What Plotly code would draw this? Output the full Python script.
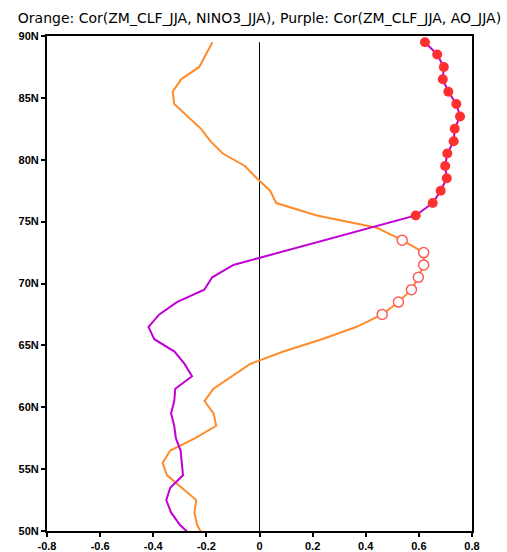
import plotly.graph_objects as go

lats = [89.5, 88.5, 87.5, 86.5, 85.5, 84.5, 83.5, 82.5, 81.5, 80.5,
        79.5, 78.5, 77.5, 76.5, 75.5, 74.5, 73.5, 72.5, 71.5, 70.5,
        69.5, 68.5, 67.5, 66.5, 65.5, 64.5, 63.5, 62.5, 61.5, 60.5,
        59.5, 58.5, 57.5, 56.5, 55.5, 54.5, 53.5, 52.5, 51.5, 50.5, 49.5]

cor_nino3 = [-0.177, -0.202, -0.227, -0.295, -0.327, -0.321, -0.269, -0.220, -0.185, -0.138,
             -0.055, -0.010, 0.040, 0.063, 0.216, 0.442, 0.537, 0.618, 0.618, 0.598,
             0.572, 0.523, 0.462, 0.366, 0.235, 0.090, -0.035, -0.104, -0.173, -0.207,
             -0.173, -0.163, -0.242, -0.336, -0.365, -0.348, -0.293, -0.238, -0.245, -0.235, -0.21]

cor_ao = [0.623, 0.669, 0.694, 0.690, 0.711, 0.741, 0.755, 0.735, 0.731, 0.707,
          0.699, 0.705, 0.682, 0.652, 0.588, 0.419, 0.249, 0.078, -0.098, -0.178,
          -0.208, -0.311, -0.377, -0.418, -0.396, -0.320, -0.282, -0.254, -0.317, -0.321,
          -0.333, -0.321, -0.315, -0.297, -0.292, -0.288, -0.336, -0.351, -0.333, -0.30, -0.25]

sig_nino3_lats = [73.5, 72.5, 71.5, 70.5, 69.5, 68.5, 67.5]
sig_ao_lats = [89.5, 88.5, 87.5, 86.5, 85.5, 84.5, 83.5, 82.5, 81.5, 80.5,
               79.5, 78.5, 77.5, 76.5, 75.5]

x_ticks = [-0.8, -0.6, -0.4, -0.2, 0, 0.2, 0.4, 0.6, 0.8]
x_labels = ["-0.8", "-0.6", "-0.4", "-0.2", "0", "0.2", "0.4", "0.6", "0.8"]
y_ticks = [50, 55, 60, 65, 70, 75, 80, 85, 90]
y_labels = ["50N", "55N", "60N", "65N", "70N", "75N", "80N", "85N", "90N"]

title = "Orange: Cor(ZM_CLF_JJA, NINO3_JJA), Purple: Cor(ZM_CLF_JJA, AO_JJA)"

ORANGE = "#ff8c2c"
PURPLE = "#c000d4"
RED = "#ff3030"
RED_OPEN = "#ff5a5a"

fig = go.Figure()

fig.add_trace(go.Scatter(x=cor_nino3, y=lats, mode="lines",
                         line=dict(color=ORANGE, width=2), hoverinfo="skip"))
fig.add_trace(go.Scatter(x=cor_ao, y=lats, mode="lines",
                         line=dict(color=PURPLE, width=2), hoverinfo="skip"))

sn_x = [cor_nino3[lats.index(l)] for l in sig_nino3_lats]
sa_x = [cor_ao[lats.index(l)] for l in sig_ao_lats]

fig.add_trace(go.Scatter(x=sn_x, y=sig_nino3_lats, mode="markers",
                         marker=dict(symbol="circle", size=10, color="white",
                                     line=dict(color=RED_OPEN, width=1.5))))
fig.add_trace(go.Scatter(x=sa_x, y=sig_ao_lats, mode="markers",
                         marker=dict(symbol="circle", size=10, color=RED,
                                     line=dict(width=0))))

fig.add_shape(type="line", xref="x", yref="y", x0=0, x1=0, y0=50, y1=89.5,
              line=dict(color="black", width=1), layer="below")

fig.update_layout(
    width=507, height=552,
    margin=dict(l=47, r=35, t=36, b=21),
    paper_bgcolor="white", plot_bgcolor="white",
    showlegend=False,
    title=dict(text=title, x=0.5, xanchor="center", xref="paper",
               y=1 - 18/552, yref="container", yanchor="middle",
               font=dict(family="DejaVu Sans", size=14, color="black")),
    xaxis=dict(range=[-0.8, 0.8], tickvals=x_ticks, ticktext=x_labels,
               automargin=False,
               showgrid=False, zeroline=False, showline=True, linecolor="black",
               linewidth=2, mirror=True, ticks="outside", ticklen=4, tickwidth=1.5,
               tickcolor="black",
               tickfont=dict(family="Liberation Sans", size=11, color="black", weight="bold")),
    yaxis=dict(range=[50, 90], tickvals=y_ticks, ticktext=y_labels,
               automargin=False,
               showgrid=False, zeroline=False, showline=True, linecolor="black",
               linewidth=2, mirror=True, ticks="outside", ticklen=4, tickwidth=1.5,
               tickcolor="black",
               tickfont=dict(family="Liberation Sans", size=11, color="black", weight="bold")),
)

fig.write_html("out.html")
